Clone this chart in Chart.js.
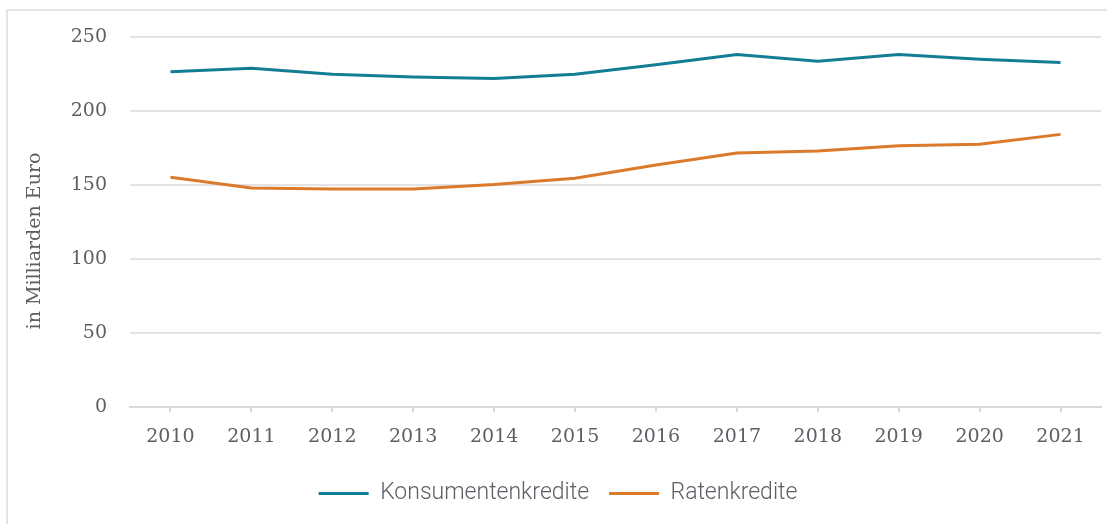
<!DOCTYPE html>
<html>
<head>
<meta charset="utf-8">
<script src="https://cdn.jsdelivr.net/npm/chart.js@4"></script>
<style>
  html, body { margin: 0; padding: 0; background: #fff; overflow: hidden; }
  #frame { position: absolute; left: 6px; top: 9px; width: 1200px; height: 600px; border: 2px solid #e4e4e4; }
  #wrap { position: absolute; left: 0; top: 0; width: 1107px; height: 524px; }
</style>
</head>
<body>
<div id="frame"></div>
<div id="wrap"><canvas id="mycanvas"></canvas></div>
<script>
var years = ['2010','2011','2012','2013','2014','2015','2016','2017','2018','2019','2020','2021'];
var konsumentenkredite = [226.6, 228.8, 224.8, 223.0, 221.9, 224.8, 231.2, 238.2, 233.6, 238.2, 235.0, 232.7];
var ratenkredite = [155.2, 148.0, 147.3, 147.3, 150.3, 154.6, 163.5, 171.6, 172.9, 176.5, 177.6, 184.2];
var yTicks = [0, 50, 100, 150, 200, 250];

var tickFont = { family: 'DejaVu Serif', size: 19 };
var textColor = '#5e5e66';

var chartdata = {
	labels: years,
	datasets: [
		{
			label: 'Konsumentenkredite',
			data: konsumentenkredite,
			borderColor: '#137d93',
			backgroundColor: '#137d93',
			borderWidth: 3,
			pointRadius: 0,
			tension: 0
		},
		{
			label: 'Ratenkredite',
			data: ratenkredite,
			borderColor: '#db7a2a',
			backgroundColor: '#db7a2a',
			borderWidth: 3,
			pointRadius: 0,
			tension: 0
		}
	]
};

var ctx = document.getElementById('mycanvas');

var lineGraph = new Chart(ctx, {
	type: 'line',
	data: chartdata,
	options: {
		responsive: true,
		maintainAspectRatio: false,
		animation: false,
		layout: { padding: { left: 15, right: 6, top: 37, bottom: 9 } },
		plugins: {
			tooltip: { enabled: false },
			legend: {
				position: 'bottom',
				labels: {
					usePointStyle: true,
					pointStyle: 'line',
					pointStyleWidth: 50,
					boxHeight: 3,
					padding: 20,
					color: textColor,
					font: { family: 'Roboto', size: 23, weight: '300' }
				}
			}
		},
		scales: {
			x: {
				offset: true,
				border: { display: true, color: '#d9d9d9', width: 2 },
				grid: { display: true, drawOnChartArea: false, drawTicks: true, tickLength: 5, color: '#d9d9d9', lineWidth: 2 },
				ticks: { color: textColor, font: tickFont, padding: 14, maxRotation: 0 },
				afterFit: function(scale) { scale.height = 55; }
			},
			y: {
				min: 0,
				max: 250,
				border: { display: false },
				grid: { color: '#e3e3e7', lineWidth: 2, drawTicks: false },
				afterBuildTicks: function(scale) {
					scale.ticks = yTicks.map(function(v) { return { value: v }; });
				},
				ticks: { color: textColor, font: tickFont, padding: 23 },
				title: {
					display: true,
					// trailing em spaces push the rotated title a bit lower, like the original
					text: 'in Milliarden Euro\u2003\u2003',
					color: textColor,
					font: tickFont,
					padding: { top: 9, bottom: 0 }
				},
				afterFit: function(scale) { scale.width = 115; }
			}
		}
	}
});
</script>
</body>
</html>
